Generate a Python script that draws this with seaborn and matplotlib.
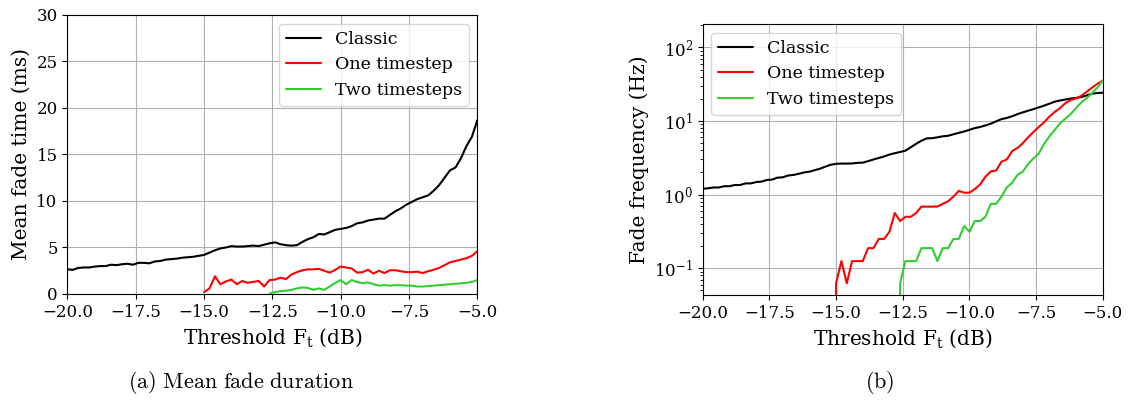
import numpy as np
import pandas as pd
import matplotlib
matplotlib.use('Agg')
import matplotlib.pyplot as plt
import seaborn as sns

# threshold grid (dB), 0.2 dB steps from -20 to -5
thresholds = np.round(np.arange(-20, -4.9, 0.2), 1)

methods = ['Classic', 'One timestep', 'Two timesteps']
colors = {'Classic': 'black', 'One timestep': 'red', 'Two timesteps': 'limegreen'}

# (a) mean fade time in ms
classic_time = [2.65, 2.6, 2.8, 2.85, 2.85, 2.95, 3.0, 3.0, 3.15, 3.1,
                3.2, 3.25, 3.15, 3.35, 3.35, 3.3, 3.5, 3.55, 3.7, 3.75,
                3.8, 3.9, 3.95, 4.0, 4.1, 4.2, 4.45, 4.7, 4.9, 5.0,
                5.15, 5.1, 5.1, 5.15, 5.2, 5.15, 5.3, 5.45, 5.55, 5.35,
                5.25, 5.2, 5.25, 5.6, 5.9, 6.1, 6.45, 6.4, 6.65, 6.9,
                7.0, 7.1, 7.3, 7.6, 7.7, 7.9, 8.0, 8.1, 8.1, 8.5,
                8.9, 9.2, 9.6, 9.9, 10.2, 10.4, 10.6, 11.1, 11.7, 12.5,
                13.3, 13.6, 14.6, 15.9, 16.9, 18.7]
one_time = [0.2, 0.6, 1.9, 1.05, 1.35, 1.55, 1.05, 1.4, 1.2, 1.3,
            1.4, 0.8, 1.5, 1.55, 1.75, 1.6, 2.1, 2.35, 2.55, 2.65,
            2.65, 2.7, 2.5, 2.3, 2.6, 2.95, 2.85, 2.75, 2.3, 2.35,
            2.6, 2.2, 2.5, 2.25, 2.55, 2.55, 2.45, 2.35, 2.35, 2.4,
            2.25, 2.45, 2.6, 2.8, 3.1, 3.4, 3.55, 3.7, 3.85, 4.1,
            4.6]
two_time = [0.05, 0.2, 0.3, 0.35, 0.45, 0.6, 0.7, 0.65, 0.45, 0.6,
            0.45, 0.8, 1.2, 1.5, 1.05, 1.5, 1.3, 1.15, 1.25, 1.05,
            0.9, 0.95, 0.9, 0.95, 0.95, 0.9, 0.9, 0.8, 0.8, 0.85,
            0.9, 0.95, 1.0, 1.05, 1.1, 1.15, 1.2, 1.3, 1.5]

# (b) fade frequency in Hz
classic_freq = [1.2, 1.22, 1.25, 1.25, 1.3, 1.3, 1.35, 1.35, 1.42, 1.42,
                1.48, 1.5, 1.58, 1.6, 1.7, 1.72, 1.82, 1.85, 1.92, 2.0,
                2.05, 2.15, 2.25, 2.4, 2.55, 2.62, 2.64, 2.64, 2.65, 2.7,
                2.72, 2.85, 3.0, 3.15, 3.3, 3.5, 3.65, 3.8, 3.95, 4.4,
                4.9, 5.4, 5.8, 5.85, 6.0, 6.2, 6.3, 6.6, 6.9, 7.2,
                7.6, 8.0, 8.3, 8.7, 9.2, 9.9, 10.6, 11.0, 11.6, 12.4,
                13.1, 13.8, 14.5, 15.3, 16.2, 17.2, 18.3, 19.0, 19.6, 20.2,
                20.6, 21.2, 22.3, 23.5, 24.0, 24.2]
one_freq = [0.0, 0.0625, 0.125, 0.0625, 0.125, 0.125, 0.125, 0.1875, 0.1875, 0.25,
            0.25, 0.3125, 0.5625, 0.4375, 0.5, 0.5, 0.5625, 0.6875, 0.6875, 0.6875,
            0.6875, 0.75, 0.8125, 0.9375, 1.125, 1.0625, 1.0625, 1.1875, 1.375, 1.75,
            2.0625, 2.125, 2.8, 3.0, 3.9, 4.3, 5.0, 6.0, 7.1, 8.3,
            9.6, 11.5, 13.3, 15.0, 17.5, 19.3, 20.3, 22.0, 25.0, 28.5,
            32.0, 35.5]
two_freq = [0.0, 0.0625, 0.125, 0.125, 0.125, 0.1875, 0.1875, 0.1875, 0.125, 0.1875,
            0.1875, 0.25, 0.25, 0.375, 0.3125, 0.4375, 0.4375, 0.5, 0.75, 0.75,
            0.9375, 1.25, 1.45, 1.85, 2.05, 2.6, 3.1, 3.6, 4.9, 6.2,
            7.6, 9.3, 10.8, 12.5, 15.0, 18.0, 20.5, 24.0, 28.5, 35.5]


def long_form(series):
    # each series ends at -5 dB, so align from the end of the grid
    frames = []
    for name, vals in zip(methods, series):
        frames.append(pd.DataFrame({'Threshold': thresholds[-len(vals):],
                                    'Value': vals, 'Method': name}))
    return pd.concat(frames, ignore_index=True)


df_time = long_form([classic_time, one_time, two_time])
df_freq = long_form([classic_freq, one_freq, two_freq])

sns.set_style('ticks', {'axes.grid': True, 'grid.color': '#b0b0b0',
                        'axes.edgecolor': 'black'})
plt.rcParams['font.family'] = ['DejaVu Serif']
plt.rcParams['mathtext.fontset'] = 'dejavuserif'
plt.rcParams['xtick.labelsize'] = 12
plt.rcParams['ytick.labelsize'] = 12
plt.rcParams['axes.labelsize'] = 14.5
plt.rcParams['grid.linewidth'] = 0.8
plt.rcParams['xtick.color'] = 'black'
plt.rcParams['ytick.color'] = 'black'
plt.rcParams['text.color'] = 'black'
plt.rcParams['axes.labelcolor'] = 'black'

fig = plt.figure(figsize=(11.32, 4.03), dpi=100)
ax1 = fig.add_axes([0.0595, 0.2705, 0.3622, 0.6923])
ax2 = fig.add_axes([0.6208, 0.268, 0.3534, 0.6725])

# -------------------- (a) Mean fade duration --------------------
sns.lineplot(data=df_time, x='Threshold', y='Value', hue='Method', hue_order=methods,
             palette=colors, estimator=None, linewidth=1.5, ax=ax1)
ax1.set_xlim(-20, -5)
ax1.set_ylim(0, 30)
ax1.set_xlabel(r'Threshold $\mathrm{F_t}$ (dB)')
ax1.set_ylabel('Mean fade time (ms)')
sns.move_legend(ax1, 'upper right', title=None, fontsize=12.5)

# -------------------- (b) Fade frequency --------------------
ax2.set_yscale('log')
sns.lineplot(data=df_freq, x='Threshold', y='Value', hue='Method', hue_order=methods,
             palette=colors, estimator=None, linewidth=1.5, ax=ax2)
ax2.set_xlim(-20, -5)
ax2.set_ylim(0.0433, 208)
ax2.set_xlabel(r'Threshold $\mathrm{F_t}$ (dB)')
ax2.set_ylabel('Fade frequency (Hz)')
sns.move_legend(ax2, 'upper left', title=None, fontsize=12.5)

for ax in (ax1, ax2):
    ax.set_xticks([-20, -17.5, -15, -12.5, -10, -7.5, -5])
    ax.set_xticklabels(['\u221220.0', '\u221217.5', '\u221215.0', '\u221212.5',
                        '\u221210.0', '\u22127.5', '\u22125.0'])

fig.text(241 / 1132, 1 - 383 / 403, r'$\mathrm{(a)\ Mean\ fade\ duration}$',
         ha='center', va='center', fontsize=16, color='black', math_fontfamily='cm')
fig.text(880 / 1132, 1 - 383 / 403, r'$\mathrm{(b)}$',
         ha='center', va='center', fontsize=16, color='black', math_fontfamily='cm')

fig.savefig('out.png', dpi=100)
